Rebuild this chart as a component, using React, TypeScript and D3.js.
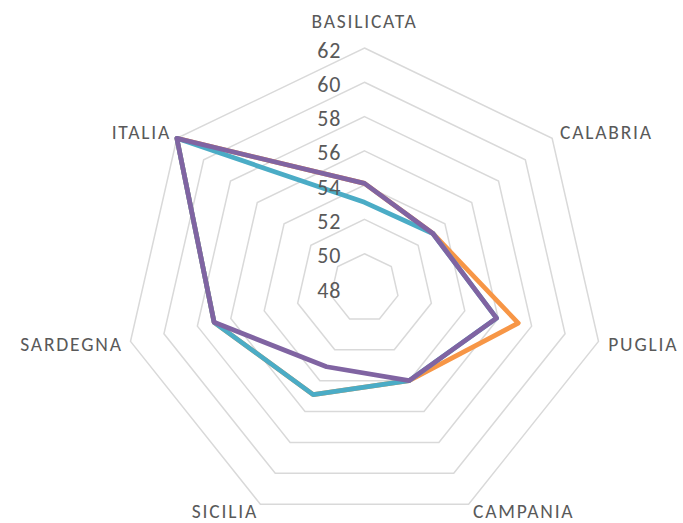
import React from "react";
import * as d3 from "d3";

const categories = ["BASILICATA", "CALABRIA", "PUGLIA", "CAMPANIA", "SICILIA", "SARDEGNA", "ITALIA"];
const seriesOrange = [54.1, 53.1, 57.2, 54.0, 54.9, 57.0, 62.0];
const seriesTeal = [53.0, 53.1, 55.9, 54.0, 54.9, 57.0, 62.0];
const seriesPurple = [54.1, 53.1, 55.9, 54.0, 53.1, 57.0, 62.0];
const tickValues = [48, 50, 52, 54, 56, 58, 60, 62];

const W = 683;
const H = 523;
const cx = 364.5;
const cy = 288;
const R = 240;
const FONT = "Carlito, Calibri, Lato, 'Open Sans', sans-serif";

export default function App() {
  const n = categories.length;
  const angle = d3.scaleLinear().domain([0, n]).range([0, 2 * Math.PI]);
  const r = d3.scaleLinear().domain([48, 62]).range([0, R]);

  const pt = (i: number, v: number): [number, number] => {
    const a = angle(i);
    return [cx + r(v) * Math.sin(a), cy - r(v) * Math.cos(a)];
  };

  const line = d3
    .line<number>()
    .x((v, i) => pt(i, v)[0])
    .y((v, i) => pt(i, v)[1])
    .curve(d3.curveLinearClosed);

  const rings = tickValues.filter((t) => t > 48);

  const series = [
    { name: "A", values: seriesOrange, color: "#F79646" },
    { name: "B", values: seriesTeal, color: "#4BACC6" },
    { name: "C", values: seriesPurple, color: "#8064A2" },
  ];

  return (
    <svg
      width={W}
      height={H}
      style={{ position: "absolute", left: 0, top: 0, background: "#fff" }}
      fontFamily={FONT}
    >
      {rings.map((t) => (
        <path
          key={t}
          d={line(categories.map(() => t)) || ""}
          fill="none"
          stroke="#D9D9D9"
          strokeWidth={1.5}
        />
      ))}
      {series.map((s) => (
        <path
          key={s.name}
          d={line(s.values) || ""}
          fill="none"
          stroke={s.color}
          strokeWidth={4.75}
          strokeLinejoin="round"
        />
      ))}
      {tickValues.map((t) => (
        <text
          key={t}
          x={cx - 23}
          y={cy - r(t) + 9.5}
          textAnchor="end"
          fontSize={22}
          letterSpacing={1}
          fill="#595959"
        >
          {t}
        </text>
      ))}
      {categories.map((c, i) => {
        const a = angle(i);
        const s = Math.sin(a);
        const co = Math.cos(a);
        const px = cx + (R + 10) * s;
        const py = cy - (R + 10) * co;
        const anchor = Math.abs(s) < 0.1 ? "middle" : s > 0 ? "start" : "end";
        const y = Math.abs(s) < 0.1 && co > 0 ? py - 10 : py + 7;
        const xAdj = anchor === "end" ? px + 2 : px;
        return (
          <text
            key={c}
            x={xAdj}
            y={Math.min(y, 517.5)}
            textAnchor={anchor}
            fontSize={19.5}
            letterSpacing={1.8}
            fill="#595959"
          >
            {c}
          </text>
        );
      })}
    </svg>
  );
}
